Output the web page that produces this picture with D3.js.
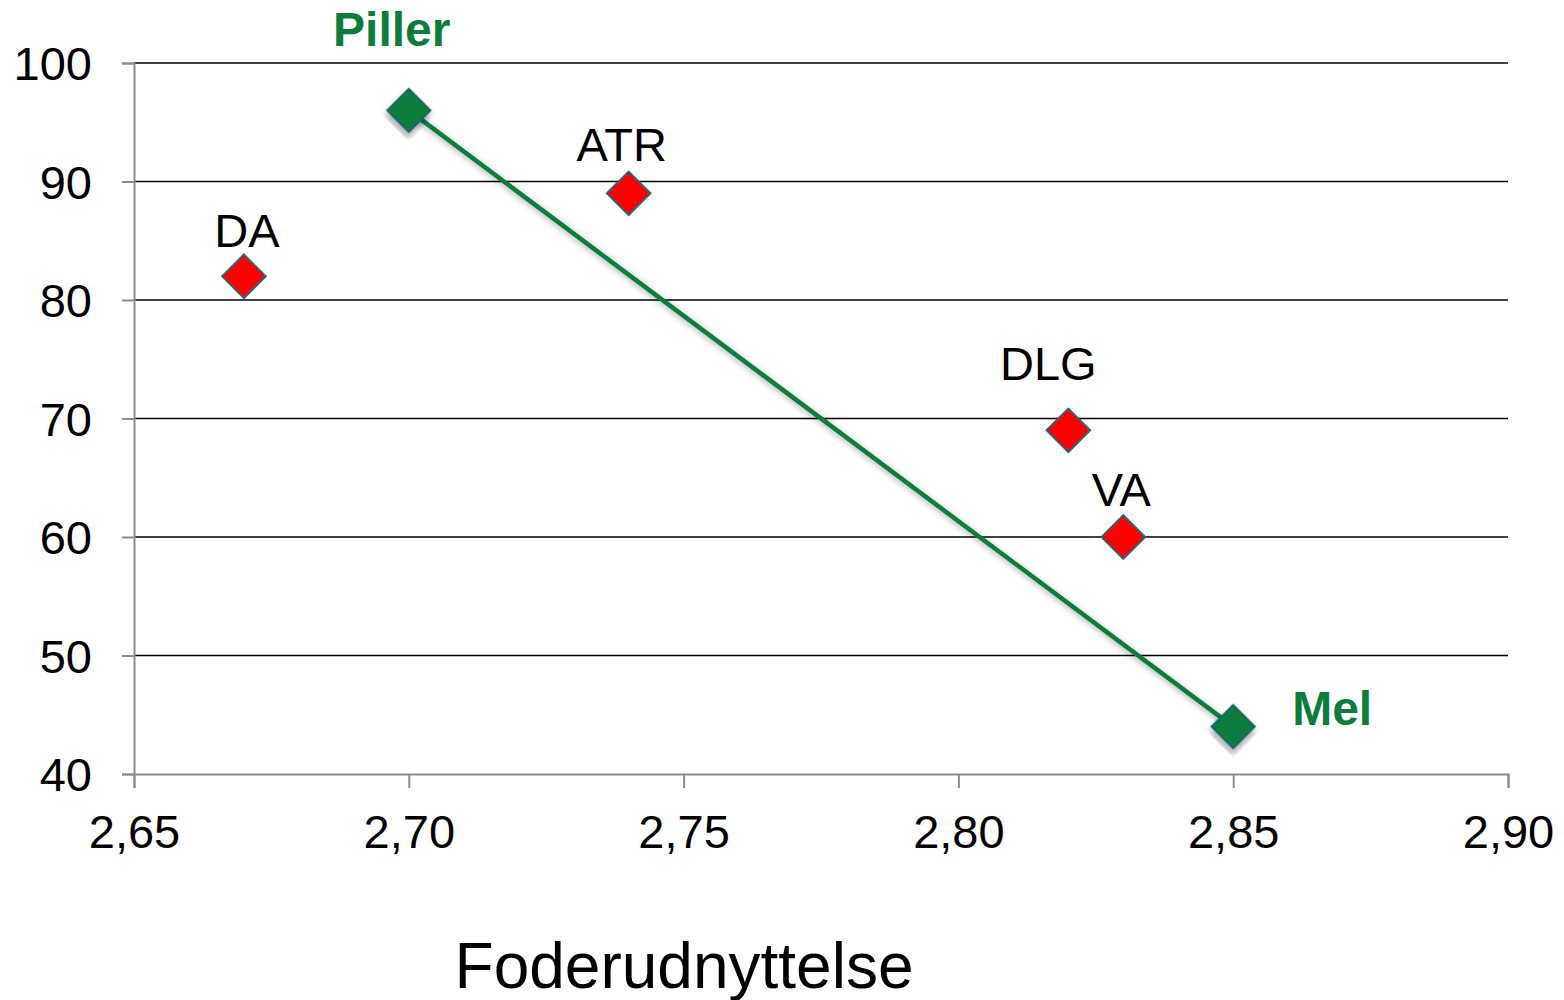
<!DOCTYPE html>
<html><head><meta charset="utf-8">
<script src="https://cdn.jsdelivr.net/npm/d3@7"></script>
<style>body{margin:0;background:#fff}svg{display:block}text{font-family:"Liberation Sans",Arial,sans-serif}</style>
</head><body>
<svg id="c" width="1564" height="1000"></svg>
<script>
const companies = ["DA", "ATR", "DLG", "VA"];
const companyX = [2.67, 2.74, 2.82, 2.83];
const companyY = [82, 89, 69, 60];
const lineNames = ["Piller", "Mel"];
const lineX = [2.70, 2.85];
const lineY = [96, 44];
const xTicks = [2.65, 2.70, 2.75, 2.80, 2.85, 2.90];
const yTicks = [40, 50, 60, 70, 80, 90, 100];
const xTitle = "Foderudnyttelse";

const svg = d3.select("#c");
const defs = svg.append("defs");
const f = defs.append("filter").attr("id","sh").attr("x","-20%").attr("y","-20%").attr("width","140%").attr("height","140%");
f.append("feDropShadow").attr("dx",3).attr("dy",4).attr("stdDeviation",3).attr("flood-color","#000").attr("flood-opacity",0.35);

const x = d3.scaleLinear().domain([2.65, 2.90]).range([134, 1508]);
const y = d3.scaleLinear().domain([40, 100]).range([774, 63]);
const fmt = d => d.toFixed(2).replace(".", ",");
const FF = '"Liberation Sans",Arial,sans-serif';

// gridlines
svg.append("g").selectAll("line").data(yTicks.filter(d => d > 40)).join("line")
  .attr("x1", x(2.65)).attr("x2", x(2.90)).attr("y1", d => y(d)).attr("y2", d => y(d))
  .attr("stroke", "#000").attr("stroke-width", 1.5);

// y axis
const ya = svg.append("g").attr("transform", `translate(${x(2.65)},0)`)
  .call(d3.axisLeft(y).tickValues(yTicks).tickSize(12).tickPadding(30));
ya.select(".domain").attr("stroke", "#8c8c8c").attr("stroke-width", 2);
ya.selectAll(".tick line").attr("stroke", "#8c8c8c").attr("stroke-width", 2);
ya.selectAll(".tick text").attr("font-size", 47).attr("fill", "#000").attr("dy", "0.36em")
  .attr("font-family", FF);

// x axis
const xa = svg.append("g").attr("transform", `translate(0,${y(40)})`)
  .call(d3.axisBottom(x).tickValues(xTicks).tickFormat(fmt).tickSize(14).tickPadding(27));
xa.select(".domain").attr("stroke", "#8c8c8c").attr("stroke-width", 2);
xa.selectAll(".tick line").attr("stroke", "#8c8c8c").attr("stroke-width", 2);
xa.selectAll(".tick text").attr("font-size", 47).attr("fill", "#000")
  .attr("font-family", FF);

// x title
svg.append("text").attr("x", 684).attr("y", 988).attr("text-anchor", "middle")
  .attr("font-size", 64).attr("fill", "#000").text(xTitle);

// green line
const green = "#0c7c3c";
const lineData = lineX.map((v, i) => [v, lineY[i]]);
svg.append("path").datum(lineData)
  .attr("d", d3.line().x(d => x(d[0])).y(d => y(d[1])))
  .attr("stroke", green).attr("stroke-width", 4.5).attr("fill", "none").attr("filter", "url(#sh)");

const diamond = d3.symbol().type(d3.symbolSquare).size(31*31);
svg.append("g").selectAll("path").data(lineData).join("path")
  .attr("transform", d => `translate(${x(d[0])},${y(d[1])}) rotate(45)`)
  .attr("d", diamond).attr("fill", green).attr("stroke", "#1f5a78").attr("stroke-width", 1.5)
  .attr("filter", "url(#sh)");

// company markers
const cData = companies.map((c, i) => ({name: c, x: companyX[i], y: companyY[i]}));
svg.append("g").selectAll("path").data(cData).join("path")
  .attr("transform", d => `translate(${x(d.x)},${y(d.y)}) rotate(45)`)
  .attr("d", diamond).attr("fill", "#ff0000").attr("stroke", "#1f6a80").attr("stroke-width", 1.8);

// labels
const cOff = {DA: [3, -29], ATR: [-7, -32], DLG: [-20, -50], VA: [-2, -31]};
svg.append("g").selectAll("text").data(cData).join("text")
  .attr("x", d => x(d.x) + cOff[d.name][0]).attr("y", d => y(d.y) + cOff[d.name][1])
  .attr("text-anchor", "middle").attr("font-size", 47).attr("fill", "#000").text(d => d.name);

const lOff = [[-17, -64, "middle"], [59, -2, "start"]];
svg.append("g").selectAll("text").data(lineNames).join("text")
  .attr("x", (d, i) => x(lineX[i]) + lOff[i][0]).attr("y", (d, i) => y(lineY[i]) + lOff[i][1])
  .attr("text-anchor", (d, i) => lOff[i][2]).attr("font-size", 48).attr("font-weight", "bold")
  .attr("fill", green).text(d => d);
</script>
</body></html>
